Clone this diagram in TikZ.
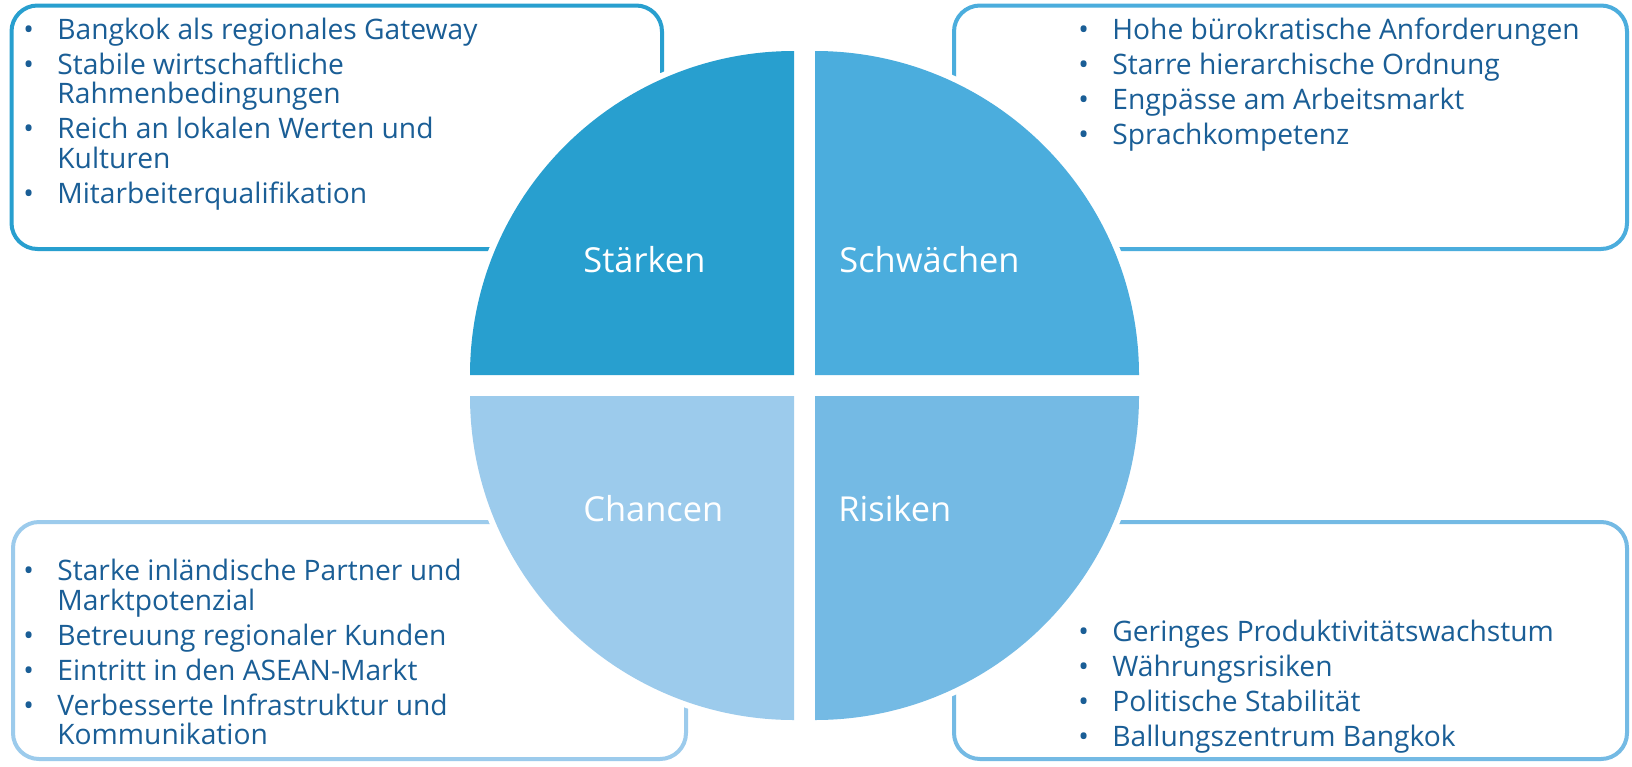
\documentclass[tikz,border=0pt]{standalone}
\usepackage{fontspec}
\setmainfont{Open Sans}

\definecolor{cStaerken}{RGB}{40,159,207}
\definecolor{cSchwaechen}{RGB}{75,173,221}
\definecolor{cRisiken}{RGB}{116,186,228}
\definecolor{cChancen}{RGB}{156,203,236}
\definecolor{cPunkt}{RGB}{26,94,150}

% one bullet point with hanging indent
\newcommand{\swotpt}[1]{\par\noindent\hangindent=17pt\hangafter=1\makebox[17pt][l]{\textbullet}#1}
\newcommand{\swotlist}[1]{\parbox[t]{262pt}{\fontsize{14.1pt}{14.75pt}\selectfont\setlength\parskip{2.75pt}#1}}

\tikzset{
  quad/.style={fill=#1, preaction={draw=white, line width=6pt}},
  swotframe/.style={draw=#1, line width=2pt, rounded corners=13pt},
  quadlabel/.style={anchor=base west, inner sep=0pt, text=white, font=\fontsize{17.2pt}{20pt}\selectfont},
  pointlist/.style={anchor=base west, inner sep=0pt, text=cPunkt},
}

\begin{document}
\begin{tikzpicture}[x=0.5pt,y=0.5pt,yscale=-1]
\useasboundingbox (0,0) rectangle (1632,766);
\fill [white] (0,0) rectangle (1632,766);

%Shape: Rounded Rectangle
\draw [swotframe=cStaerken] (11.5,5.5) -- (662,5.5) -- (662,249) -- (11.5,249) -- cycle ;
%Shape: Rounded Rectangle
\draw [swotframe=cSchwaechen] (954,5.5) -- (1627,5.5) -- (1627,249) -- (954,249) -- cycle ;
%Shape: Rounded Rectangle
\draw [swotframe=cChancen] (13,522) -- (686,522) -- (686,759) -- (13,759) -- cycle ;
%Shape: Rounded Rectangle
\draw [swotframe=cRisiken] (954,522) -- (1627,522) -- (1627,759) -- (954,759) -- cycle ;

%Shape: Quarter Circle
\fill [quad=cStaerken] (794,375) -- (470,375) arc [start angle=180, end angle=270, radius=324] -- cycle ;
%Shape: Quarter Circle
\fill [quad=cSchwaechen] (815,375) -- (815,51) arc [start angle=270, end angle=360, radius=324] -- cycle ;
%Shape: Quarter Circle
\fill [quad=cRisiken] (815,396) -- (1139,396) arc [start angle=0, end angle=90, radius=324] -- cycle ;
%Shape: Quarter Circle
\fill [quad=cChancen] (794,396) -- (794,720) arc [start angle=90, end angle=180, radius=324] -- cycle ;

% Text Node
\draw (583,272) node (lblS) [quadlabel] {Stärken};
% Text Node
\draw (839,272) node (lblW) [quadlabel] {Schwächen};
% Text Node
\draw (583,521) node (lblO) [quadlabel] {Chancen};
% Text Node
\draw (838,521) node (lblT) [quadlabel] {Risiken};

% Text Node
\draw (23,39.3) node (ptsS) [pointlist] {\swotlist{%
\swotpt{Bangkok als regionales Gateway}
\swotpt{Stabile wirtschaftliche\\Rahmenbedingungen}
\swotpt{Reich an lokalen Werten und\\Kulturen}
\swotpt{Mitarbeiterqualifikation}}};
% Text Node
\draw (1078,39.3) node (ptsW) [pointlist] {\swotlist{%
\swotpt{Hohe bürokratische Anforderungen}
\swotpt{Starre hierarchische Ordnung}
\swotpt{Engpässe am Arbeitsmarkt}
\swotpt{Sprachkompetenz}}};
% Text Node
\draw (23,580.7) node (ptsO) [pointlist] {\swotlist{%
\swotpt{Starke inländische Partner und\\Marktpotenzial}
\swotpt{Betreuung regionaler Kunden}
\swotpt{Eintritt in den ASEAN-Markt}
\swotpt{Verbesserte Infrastruktur und\\Kommunikation}}};
% Text Node
\draw (1078,641.7) node (ptsT) [pointlist] {\swotlist{%
\swotpt{Geringes Produktivitätswachstum}
\swotpt{Währungsrisiken}
\swotpt{Politische Stabilität}
\swotpt{Ballungszentrum Bangkok}}};

\end{tikzpicture}
\end{document}
